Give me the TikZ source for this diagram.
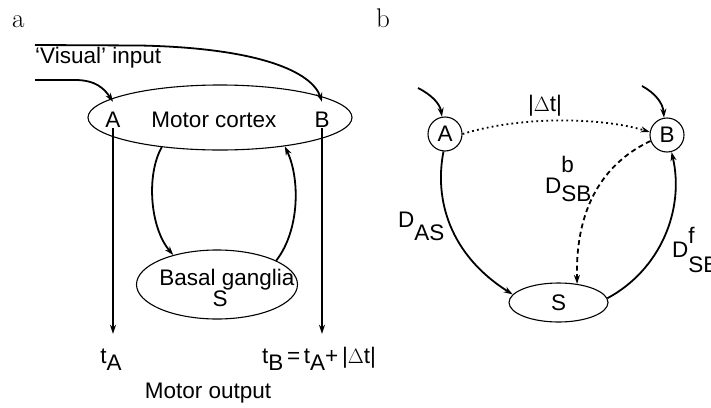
\documentclass[tikz,border=0pt]{standalone}
\usepackage{fontspec}
\setsansfont{Liberation Sans}
\usetikzlibrary{arrows.meta,shapes.geometric}
\newcommand{\lowr}[2]{\raisebox{#1}{#2}}
\begin{document}
\begin{tikzpicture}[x=1pt,y=-1pt,
  font=\sffamily\fontsize{22.5}{26}\selectfont,
  arr/.style={line width=1.8pt,-{Stealth[length=9pt,width=6pt]}},
  ell/.style={draw,ellipse,line width=1.1pt,inner sep=0pt},
  circ/.style={draw,circle,line width=1.1pt,inner sep=0pt,minimum size=34pt},
  lbl/.style={inner sep=1pt,anchor=base,text height=24pt},
  outlbl/.style={inner sep=1pt,anchor=base,text height=28pt},
  txt/.style={inner sep=0pt},
  panel/.style={inner sep=0pt,anchor=base west,font=\rmfamily\fontsize{27}{30}\selectfont},
  dotarr/.style={line width=1.8pt,dash pattern=on 1.8pt off 3.2pt,-{Stealth[length=9pt,width=6pt]}},
  dasharr/.style={line width=1.8pt,dash pattern=on 5pt off 3.5pt,-{Stealth[length=9pt,width=6pt]}}]
\useasboundingbox (0,0) rectangle (711,407);
% ---------- panel a ----------
\node[panel] (pa) at (12,27) {a};
\node[ell,minimum width=264pt,minimum height=65pt] (mc) at (220,117.5) {};
\node[txt] (mctext) at (214,120) {Motor cortex};
\node[lbl] (A) at (113,127) {A};
\node[lbl] (B) at (322,127) {B};
\node[txt,anchor=base west] (vis) at (35,63) {‘Visual’ input};
\coordinate (inB) at (35,45);
\coordinate (inA) at (35,80);
\draw[arr] (inB) -- (140,45.5) .. controls (260,48) and (312,72) .. (B.north);
\draw[arr] (inA) -- (75,80) .. controls (95,80) and (104,88) .. (A.north);
\node[ell,minimum width=161pt,minimum height=69pt] (bg) at (217,284.5) {};
\node[txt,anchor=base] (bgtext) at (227,285) {Basal ganglia};
\node[txt,anchor=base] (bgs) at (220,306) {S};
\draw[arr] (mc.207) .. controls (146,175) and (150,228) .. (bg.146);
\draw[arr] (bg.22) .. controls (300,230) and (300,178) .. (mc.-24);
\node[outlbl] (tA) at (111,363) {t\lowr{-7pt}{A}};
\node[outlbl] (tB) at (319,363) {t\lowr{-7pt}{B}\,=\,t\lowr{-7pt}{A}+\,|\(\Delta\)t|};
\draw[arr] (A.south) -- (A.south |- tA.north);
\draw[arr] (B.south) -- (B.south |- tB.north);
\node[txt,anchor=base] (mo) at (208,398) {Motor output};
% ---------- panel b ----------
\node[panel] (pb) at (376,27) {b};
\node[circ] (bA) at (445,134) {A};
\node[circ] (bB) at (667,135) {B};
\node[ell,minimum width=99pt,minimum height=39pt] (bS) at (558.5,302.5) {S};
\coordinate (inbA) at (418,88);
\coordinate (inbB) at (642,86);
\draw[arr] (inbA) .. controls (432,95) and (440,104) .. (bA.100);
\draw[arr] (inbB) .. controls (655,93) and (663,103) .. (bB.100);
\draw[dotarr] (bA.east) .. controls (520,116) and (600,117) .. (bB.170);
\node[txt] (dt) at (545,106) {|\(\Delta\)t|};
\draw[arr] (bA.-95) .. controls (434,200) and (450,255) .. (bS.170);
\draw[arr] (bS.5) .. controls (660,270) and (685,210) .. (bB.-75);
\draw[dasharr] (bB.200) .. controls (610,160) and (575,200) .. (bS.45);
\node[txt,anchor=base west] (das) at (398,227) {D\lowr{-13pt}{AS}};
\node[txt,anchor=base west] (dsbb) at (545,193) {D\rlap{\lowr{21pt}{b}}\lowr{-8pt}{SB}};
\node[txt,anchor=base west] (dsbf) at (672,257) {D\rlap{\lowr{14pt}{f}}\lowr{-15pt}{SB}};
\end{tikzpicture}
\end{document}
